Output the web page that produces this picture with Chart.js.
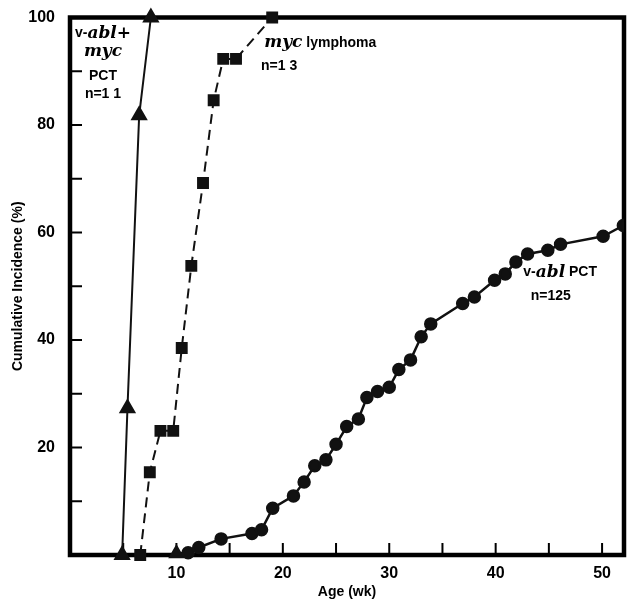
<!DOCTYPE html>
<html>
<head>
<meta charset="utf-8">
<script src="https://cdn.jsdelivr.net/npm/chart.js@4.4.1/dist/chart.umd.min.js"></script>
<style>
  html, body { margin: 0; padding: 0; background: #fff; }
</style>
</head>
<body>
<canvas id="myChart" width="634" height="604"></canvas>
<script>
// v-abl + myc PCT, n=11 (triangles)
let ablMycAge = [4.9, 5.4, 6.5, 7.6];
let ablMycInc = [0, 27.3, 81.8, 100];

// myc lymphoma, n=13 (squares, dashed)
let mycAge = [6.6, 7.5, 8.5, 9.7, 10.5, 11.4, 12.5, 13.5, 14.4, 15.6, 19.0];
let mycInc = [0, 15.4, 23.1, 23.1, 38.5, 53.8, 69.2, 84.6, 92.3, 92.3, 100];

// v-abl PCT, n=125 (circles)
let ablAge = [10.0, 11.1, 12.1, 14.2, 17.1, 18.0, 19.05, 21.0, 22.0, 23.0, 24.05, 25.0, 26.0, 27.1, 27.9,
  28.9, 30.0, 30.9, 32.0, 33.0, 33.9, 36.9, 38.0, 39.9, 40.9, 41.9, 43.0, 44.9, 46.1, 50.1, 52.0];
let ablInc = [0.3, 0.4, 1.4, 3.0, 4.0, 4.7, 8.7, 11.0, 13.6, 16.6, 17.7, 20.6, 23.9, 25.3, 29.3,
  30.4, 31.2, 34.5, 36.3, 40.6, 43.0, 46.8, 48.0, 51.1, 52.3, 54.5, 56.0, 56.7, 57.8, 59.3, 61.3];

let yTickLabels = [20, 40, 60, 80, 100];
let xTickLabels = [10, 20, 30, 40, 50];

const sans = "bold 14px 'Liberation Sans', Arial, sans-serif";
const ital = "bold italic 17px 'DejaVu Serif', serif";

// label lines: [parts], data x, data y, align
let notes = [
  [[["v-", sans], ["abl+", ital]], 3.1, 97.0, "center"],
  [[["myc", ital]], 3.1, 93.6, "center"],
  [[["PCT", sans]], 3.1, 89.1, "center"],
  [[["n=1 1", sans]], 3.1, 85.8, "center"],
  [[["myc", ital], [" lymphoma", sans]], 18.25, 95.3, "left"],
  [[["n=1 3", sans]], 17.95, 91.0, "left"],
  [[["v-", sans], ["abl", ital], [" PCT", sans]], 42.6, 52.6, "left"],
  [[["n=125", sans]], 43.3, 48.1, "left"],
];

function pts(xs, ys) {
  return xs.map((v, i) => ({ x: v, y: ys[i] }));
}

function drawRich(ctx, parts, px, py, align) {
  let w = 0;
  parts.forEach((p) => {
    ctx.font = p[1];
    w += ctx.measureText(p[0]).width;
  });
  let cx = align === "center" ? px - w / 2 : px;
  parts.forEach((p) => {
    ctx.font = p[1];
    ctx.fillText(p[0], cx, py);
    cx += ctx.measureText(p[0]).width;
  });
}

const frame = {
  id: "frame",
  beforeDatasetsDraw(chart) {
    const { ctx, chartArea: a, scales } = chart;
    const x = scales.x, y = scales.y;
    ctx.save();
    ctx.strokeStyle = "#000";
    ctx.lineWidth = 4.5;
    ctx.strokeRect(a.left, a.top, a.right - a.left, a.bottom - a.top);
    ctx.lineWidth = 2;
    ctx.beginPath();
    y.ticks.forEach((t) => {
      if (t.value <= 0 || t.value >= 100) return;
      const py = y.getPixelForValue(t.value);
      ctx.moveTo(a.left, py);
      ctx.lineTo(a.left + 12, py);
    });
    x.ticks.forEach((t) => {
      if (t.value <= 0) return;
      const px = x.getPixelForValue(t.value);
      ctx.moveTo(px, a.bottom);
      ctx.lineTo(px, a.bottom - 12);
    });
    ctx.stroke();
    ctx.restore();
  },
  afterDraw(chart) {
    const { ctx, scales } = chart;
    ctx.save();
    ctx.fillStyle = "#000";
    ctx.textBaseline = "middle";
    ctx.textAlign = "left";
    notes.forEach((n) => {
      drawRich(ctx, n[0], scales.x.getPixelForValue(n[1]), scales.y.getPixelForValue(n[2]), n[3]);
    });
    ctx.restore();
  },
};

const tickFont = { family: "'Liberation Sans', Arial, sans-serif", size: 16, weight: "bold" };

new Chart(document.getElementById("myChart"), {
  type: "scatter",
  data: {
    datasets: [
      {
        label: "v-abl+myc PCT",
        data: pts(ablMycAge, ablMycInc),
        showLine: true,
        borderColor: "#111",
        backgroundColor: "#111",
        borderWidth: 2,
        pointStyle: "triangle",
        pointRadius: 8,
        clip: false,
      },
      {
        label: "myc lymphoma",
        data: pts(mycAge, mycInc),
        showLine: true,
        borderColor: "#111",
        backgroundColor: "#111",
        borderWidth: 2,
        borderDash: [10, 6],
        pointStyle: "rect",
        pointRadius: 7,
        clip: false,
      },
      {
        label: "v-abl PCT",
        data: pts(ablAge, ablInc),
        showLine: true,
        borderColor: "#111",
        backgroundColor: "#111",
        borderWidth: 2.5,
        pointStyle: ablAge.map((v, i) => (i === 0 ? "triangle" : "circle")),
        pointRadius: ablAge.map((v, i) => (i === 0 ? 7 : 5.5)),
        clip: { left: 10, top: 10, right: 0, bottom: 10 },
      },
    ],
  },
  options: {
    responsive: false,
    animation: false,
    layout: { padding: { top: 17.5, right: 6, bottom: 0, left: 0 } },
    plugins: {
      legend: { display: false },
      tooltip: { enabled: false },
    },
    scales: {
      x: {
        type: "linear",
        min: 0,
        max: 52.06,
        grid: { display: false, drawTicks: false },
        border: { display: false },
        ticks: {
          stepSize: 5,
          includeBounds: false,
          autoSkip: false,
          maxRotation: 0,
          padding: 9,
          color: "#000",
          font: tickFont,
          callback: (v) => (xTickLabels.includes(v) ? String(v) : ""),
        },
        title: {
          display: true,
          text: "Age (wk)",
          color: "#000",
          font: { family: "'Liberation Sans', Arial, sans-serif", size: 14, weight: "bold" },
          padding: { top: 0, bottom: 3 },
        },
        afterFit: (s) => {
          s.height = 49;
          s.paddingLeft = 0;
          s.paddingRight = 0;
        },
      },
      y: {
        min: 0,
        max: 100,
        grid: { display: false, drawTicks: false },
        border: { display: false },
        ticks: {
          stepSize: 10,
          autoSkip: false,
          padding: 15,
          color: "#000",
          font: tickFont,
          callback: (v) => (yTickLabels.includes(v) ? String(v) : ""),
        },
        title: {
          display: true,
          text: "Cumulative Incidence (%)",
          color: "#000",
          font: { family: "'Liberation Sans', Arial, sans-serif", size: 14, weight: "bold" },
          padding: { top: 10, bottom: 0 },
        },
        afterFit: (s) => {
          s.width = 70;
          s.paddingTop = 0;
          s.paddingBottom = 0;
        },
      },
    },
  },
  plugins: [frame],
});
</script>
</body>
</html>
